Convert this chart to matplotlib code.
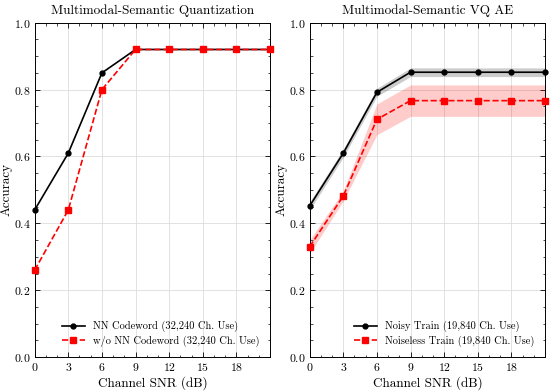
import numpy as np
import matplotlib
matplotlib.use('Agg')
import matplotlib.pyplot as plt
from matplotlib.ticker import AutoMinorLocator, MultipleLocator

plt.rcParams['font.family'] = 'serif'
plt.rcParams['font.serif'] = ['cmr10', 'DejaVu Serif']
plt.rcParams['mathtext.fontset'] = 'cm'
plt.rcParams['axes.formatter.use_mathtext'] = True
plt.rcParams['xtick.direction'] = 'in'
plt.rcParams['ytick.direction'] = 'in'

snr = [0, 3, 6, 9, 12, 15, 18, 21]

# left panel
nn_codeword = [0.44, 0.61, 0.85, 0.92, 0.92, 0.92, 0.92, 0.92]
wo_nn_codeword = [0.26, 0.44, 0.80, 0.92, 0.92, 0.92, 0.92, 0.92]

# right panel (mean and half-width of shaded band)
noisy_train = [0.452, 0.61, 0.792, 0.852, 0.852, 0.852, 0.852, 0.852]
noisy_std = [0.012, 0.012, 0.012, 0.013, 0.013, 0.013, 0.013, 0.013]
noiseless_train = [0.33, 0.482, 0.711, 0.767, 0.767, 0.767, 0.767, 0.767]
noiseless_std = [0.02, 0.015, 0.046, 0.047, 0.047, 0.047, 0.047, 0.047]

xticks = [0, 3, 6, 9, 12, 15, 18]


def style_axes(ax, title):
    ax.set_xlim(0, 21)
    ax.set_ylim(0, 1.0)
    ax.set_xticks(xticks)
    ax.yaxis.set_major_locator(MultipleLocator(0.2))
    ax.xaxis.set_minor_locator(AutoMinorLocator(3))
    ax.yaxis.set_minor_locator(AutoMinorLocator(4))
    ax.tick_params(which='both', top=True, right=True, labelsize=8.5)
    ax.tick_params(which='major', length=3.5, width=0.6, pad=3)
    ax.tick_params(which='minor', length=1.8, width=0.5)
    ax.grid(True, which='major', color='#dddddd', linewidth=0.6)
    ax.set_axisbelow(True)
    for s in ax.spines.values():
        s.set_linewidth(0.7)
    ax.set_title(title, fontsize=9.5, pad=6)
    ax.set_xlabel('Channel SNR (dB)', fontsize=9.5, labelpad=2)
    ax.set_ylabel('Accuracy', fontsize=9.5, labelpad=1)
    ax.legend(loc='lower right', frameon=False, fontsize=7.5,
              handlelength=2.2, labelspacing=0.3, borderaxespad=0.6)


fig = plt.figure(figsize=(5.5, 3.92), dpi=100)
ax1 = fig.add_axes([0.063, 0.089, 0.428, 0.853])
ax2 = fig.add_axes([0.563, 0.089, 0.428, 0.853])

ax1.plot(snr, nn_codeword, '-o', color='black', lw=1.2, ms=3.5,
         label='NN Codeword (32,240 Ch. Use)', clip_on=False, zorder=3)
ax1.plot(snr, wo_nn_codeword, '--s', color='red', lw=1.2, ms=4,
         label='w/o NN Codeword (32,240 Ch. Use)', clip_on=False, zorder=4)
style_axes(ax1, 'Multimodal-Semantic Quantization')

noisy = np.array(noisy_train)
noiseless = np.array(noiseless_train)
ax2.fill_between(snr, noisy - np.array(noisy_std), noisy + np.array(noisy_std),
                 color='black', alpha=0.2, lw=0)
ax2.fill_between(snr, noiseless - np.array(noiseless_std), noiseless + np.array(noiseless_std),
                 color='red', alpha=0.2, lw=0)
ax2.plot(snr, noisy_train, '-o', color='black', lw=1.2, ms=3.5,
         label='Noisy Train (19,840 Ch. Use)', clip_on=False, zorder=3)
ax2.plot(snr, noiseless_train, '--s', color='red', lw=1.2, ms=4,
         label='Noiseless Train (19,840 Ch. Use)', clip_on=False, zorder=4)
style_axes(ax2, 'Multimodal-Semantic VQ AE')

fig.savefig('out.png', dpi=100)
